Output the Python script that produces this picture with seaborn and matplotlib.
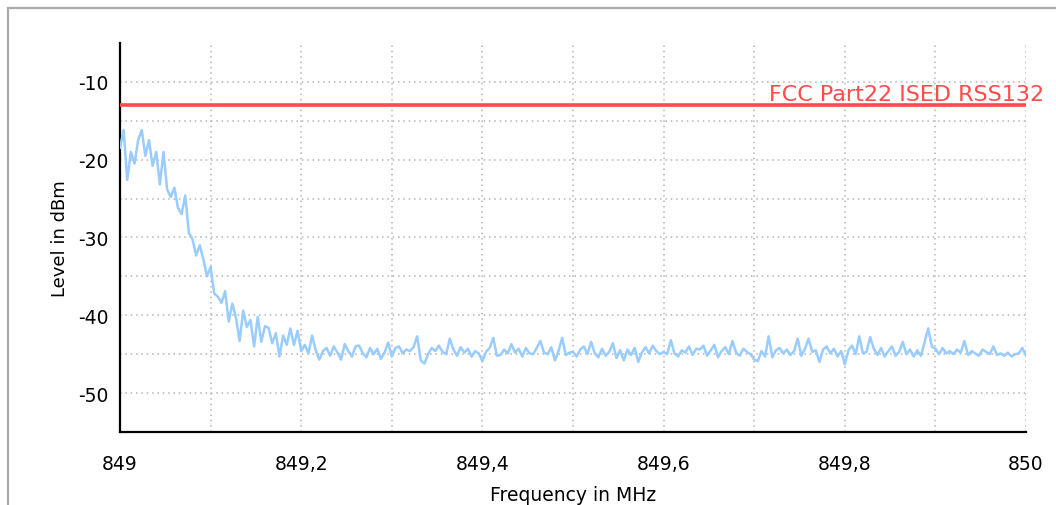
import numpy as np
import pandas as pd
import matplotlib
matplotlib.use("Agg")
import matplotlib.pyplot as plt
from matplotlib.patches import Rectangle
import seaborn as sns

# ---------------- data ----------------
freq_start = 849.0
freq_stop = 850.0
level_dbm = [
    -18.5, -16.2, -22.6, -19.0, -20.5, -17.5, -16.2, -19.5, -17.5, -20.8,
    -19.0, -23.2, -19.0, -23.8, -24.8, -23.6, -26.2, -27.0, -24.6, -29.4,
    -30.2, -32.3, -31.0, -32.8, -35.0, -33.8, -37.2, -37.6, -38.4, -36.9,
    -40.8, -38.5, -40.3, -43.3, -39.4, -41.5, -40.6, -44.0, -40.2, -43.4,
    -41.4, -41.6, -43.6, -42.3, -45.3, -42.6, -43.8, -41.7, -43.8, -42.0,
    -44.6, -43.8, -44.9, -42.6, -44.5, -45.7, -44.6, -44.2, -45.2, -44.0,
    -44.8, -45.7, -43.7, -44.6, -45.3, -44.0, -43.9, -44.9, -45.4, -44.2,
    -45.0, -44.3, -45.6, -44.8, -43.5, -45.3, -44.2, -44.0, -44.9, -44.4,
    -44.6, -44.1, -42.7, -45.8, -46.2, -45.0, -44.2, -44.6, -43.9, -44.7,
    -45.0, -43.0, -44.4, -45.2, -44.1, -44.8, -44.3, -45.3, -44.6, -44.9,
    -45.9, -44.7, -44.2, -42.9, -45.2, -45.1, -44.4, -44.9, -43.7, -44.8,
    -44.3, -45.3, -44.2, -44.9, -45.0, -44.2, -43.3, -44.8, -45.0, -44.1,
    -45.8, -44.6, -42.9, -45.1, -44.8, -44.7, -45.3, -44.4, -44.0, -45.0,
    -43.4, -44.9, -45.4, -44.3, -45.2, -44.7, -43.6, -45.5, -44.5, -45.8,
    -44.4, -45.1, -44.2, -46.0, -44.8, -44.1, -44.9, -43.9, -44.6, -45.0,
    -44.7, -45.0, -43.2, -44.9, -45.3, -44.5, -44.8, -44.0, -45.1, -44.3,
    -44.4, -43.9, -45.2, -44.5, -43.8, -45.4, -44.6, -44.1, -45.0, -43.3,
    -44.8, -45.2, -44.3, -44.7, -45.0, -45.7, -45.9, -44.6, -45.3, -42.7,
    -45.4, -44.5, -44.2, -44.9, -44.4, -45.1, -44.6, -43.0, -45.2, -44.3,
    -43.0, -44.7, -44.5, -46.0, -44.4, -44.0, -44.9, -44.3, -45.3, -44.6,
    -46.3, -44.5, -43.9, -45.0, -42.7, -44.9, -44.7, -42.8, -44.3, -45.1,
    -44.2, -45.3, -44.6, -44.0, -45.2, -44.7, -43.4, -45.0, -44.4, -45.3,
    -44.5, -45.2, -43.5, -41.7, -44.0, -44.3, -45.0, -44.2, -44.9, -44.6,
    -45.0, -44.4, -44.8, -43.3, -45.1, -44.6, -44.9, -45.2, -44.4, -44.7,
    -45.0, -44.0, -45.1, -44.9, -45.2, -44.8, -45.3, -45.0, -44.9, -44.2,
    -45.2,
]
limit_freq = [849.0, 850.0]
limit_dbm = [-13.0, -13.0]
limit_name = "FCC Part22 ISED RSS132"
x_ticks = [849.0, 849.1, 849.2, 849.3, 849.4, 849.5, 849.6, 849.7, 849.8, 849.9, 850.0]
x_tick_labels = ["849", "", "849,2", "", "849,4", "", "849,6", "", "849,8", "", "850"]
y_ticks = [-50, -45, -40, -35, -30, -25, -20, -15, -10]
y_tick_labels = ["-50", "", "-40", "", "-30", "", "-20", "", "-10"]
x_label = "Frequency in MHz"
y_label = "Level in dBm"

freq = np.linspace(freq_start, freq_stop, len(level_dbm))
df = pd.DataFrame({"freq": freq, "level": level_dbm})
df_lim = pd.DataFrame({"freq": limit_freq, "level": limit_dbm})

# ---------------- style ----------------
sns.set_style("white")
plt.rcParams["font.family"] = ["DejaVu Sans"]
plt.rcParams["text.color"] = "black"
plt.rcParams["axes.labelcolor"] = "black"

W, H = 1056, 506
fig = plt.figure(figsize=(W / 100, H / 100), dpi=100)
ax = fig.add_axes([120 / W, 1 - 433 / H, (1026 - 120) / W, (433 - 44) / H])

sns.lineplot(data=df, x="freq", y="level", ax=ax, color="#99CCFF",
             linewidth=1.8, zorder=3)
sns.lineplot(data=df_lim, x="freq", y="level", ax=ax, color="#FF4B4B",
             linewidth=2.6, zorder=4)

ax.set_xlim(freq_start, freq_stop)
ax.set_ylim(-55, -5)

ax.set_xticks(x_ticks)
ax.set_xticklabels(x_tick_labels)
ax.set_yticks(y_ticks)
ax.set_yticklabels(y_tick_labels)

ax.grid(True, color="#b4b4b4", linestyle=(0, (1, 2.5)), linewidth=1.1, zorder=0)
for side in ["top", "right"]:
    ax.spines[side].set_visible(False)
for side in ["left", "bottom"]:
    ax.spines[side].set_color("black")
    ax.spines[side].set_linewidth(1.6)

ax.tick_params(axis="both", direction="inout", length=11, width=1.4,
               colors="black", labelsize=13.5)
ax.tick_params(axis="x", pad=10)
ax.tick_params(axis="y", pad=3)

ax.set_xlabel(x_label, fontsize=13.5, labelpad=9, color="black")
ax.set_ylabel(y_label, fontsize=13, labelpad=6, color="black")

ax.text(850.02, -12.9, limit_name, color="#FF4B4B", fontsize=16,
        ha="right", va="bottom", clip_on=False, zorder=5)

# outer frame
frame = Rectangle((8 / W, -0.2), 1.2, 1.2 - 9 / H, transform=fig.transFigure,
                  fill=False, edgecolor="#ababab", linewidth=1.6, clip_on=False)
fig.patches.append(frame)

fig.savefig("out.png", dpi=100)
